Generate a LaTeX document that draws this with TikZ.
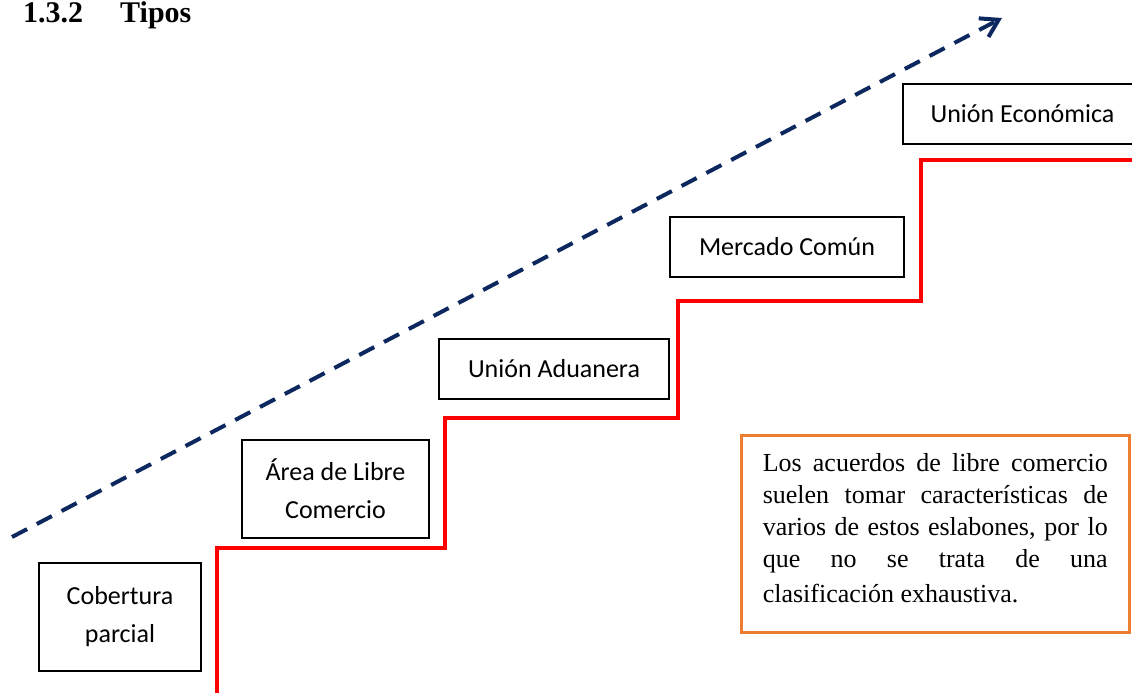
\documentclass[tikz,border=0pt]{standalone}
\usepackage{fontspec}
\setmainfont{Liberation Serif}
\newfontfamily\calibri{Carlito}
\usetikzlibrary{arrows.meta}
\definecolor{azulosc}{RGB}{12,40,94}
\definecolor{naranja}{RGB}{237,125,49}

\begin{document}
\begin{tikzpicture}[x=1pt,y=-1pt,
  etapa/.style={draw, line width=1.5pt, font=\calibri\fontsize{26}{38}\selectfont, align=center, inner sep=0pt},
  escalon/.style={red, line width=4pt},
  flecha/.style={azulosc, line width=4pt, dash pattern=on 17pt off 11pt, -{Straight Barb[length=17pt,width=21pt]}}]
 \clip (0,0) rectangle (1132,693);
 \fill[white] (0,0) rectangle (1132,693);

 \node[anchor=base west, inner sep=0pt, font=\bfseries\fontsize{30}{34}\selectfont] (titulo) at (23,23) {1.3.2\hspace{37pt}Tipos};

 % escalera
 \draw[escalon] (217,693)--(217,548)--(445,548)--(445,418)--(678,418)--(678,301)--(921,301)--(921,160)--(1140,160);

 \coordinate (ini) at (12,537);
 \coordinate (fin) at (1002,18);
 \draw[flecha] (ini)--(fin);

 \node[etapa, minimum width=162pt, minimum height=108pt] (cob) at (120,617) {Cobertura\\parcial};
 \node[etapa, minimum width=187pt, minimum height=98pt] (area) at (335.5,489) {Área de Libre\\Comercio};
 \node[etapa, minimum width=230pt, minimum height=60pt] (adu) at (554,369) {Unión Aduanera};
 \node[etapa, minimum width=234pt, minimum height=60pt] (merc) at (787,247) {Mercado Común};
 \node[etapa, minimum width=239pt, minimum height=60pt] (econ) at (1022.5,114) {Unión Económica};

 \node[draw=naranja, line width=2.5pt, anchor=north west, minimum height=197pt, text width=345pt, inner xsep=21.5pt, inner ysep=0pt, align=justify, font=\fontsize{26}{32}\selectfont] (nota) at (740,434)
  {Los acuerdos de libre comercio\linebreak suelen tomar características de\linebreak varios de estos eslabones, por lo\linebreak que no se trata de una\vspace{3pt}\linebreak clasificación exhaustiva.\rule[-12pt]{0pt}{12pt}};
\end{tikzpicture}
\end{document}
